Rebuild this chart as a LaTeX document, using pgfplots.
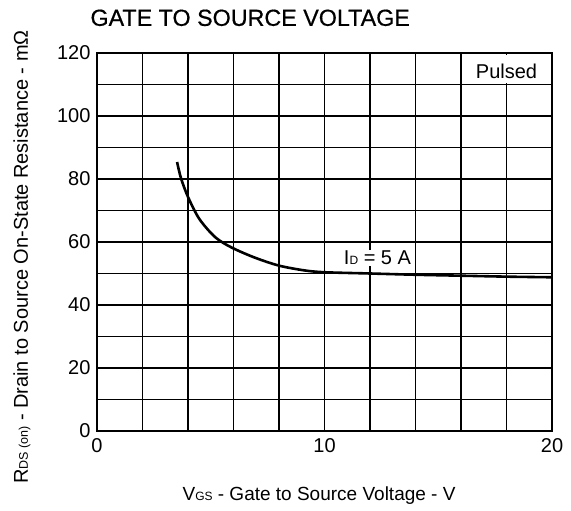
\documentclass[border=0pt]{standalone}
\usepackage{pgfplots}
\pgfplotsset{compat=1.18}
\usepackage{fontspec}
\setmainfont{Liberation Sans}
\begin{document}
\begin{tikzpicture}[x=1bp,y=1bp]
\path[use as bounding box] (0,0) rectangle (571,511);
\begin{axis}[
  at={(97bp,80bp)}, anchor=south west,
  scale only axis, width=455bp, height=378bp,
  xmin=0, xmax=20, ymin=0, ymax=120,
  xtick={0,10,20}, minor xtick={2,4,...,18},
  ytick={0,20,...,120}, minor ytick={10,30,...,110},
  grid=both,
  major grid style={black, line width=1.1bp},
  minor grid style={black, line width=1.1bp},
  axis line style={black, line width=2.6bp},
  tick style={draw=none},
  /pgf/number format/assume math mode=true,
  ticklabel style={font=\fontsize{20bp}{24bp}\selectfont},
  xticklabel style={yshift=-4bp},
  yticklabel style={xshift=-3bp},
  xlabel={V{\fontsize{12bp}{12bp}\selectfont GS} - Gate to Source Voltage - V},
  ylabel={R{\fontsize{12.5bp}{12bp}\selectfont DS (on)} - Drain to Source On-State Resistance - mΩ},
  xlabel style={font=\fontsize{19bp}{22bp}\selectfont, at={(axis description cs:0.488,-0.172)}, anchor=center},
  ylabel style={font=\fontsize{20bp}{22bp}\selectfont, at={(axis description cs:-0.165,0.46)}, anchor=center, rotate=0},
  clip=false,
]
\addplot[black, line width=2.6bp, smooth] coordinates {
(3.52,85.4) (3.69,80.3) (4.0,74.3) (4.5,67.3) (5.2,61.5) (5.93,58.2)
(6.95,55.0) (8,52.5) (9.1,51.0) (10,50.4) (12,50.0) (14,49.6)
(16,49.3) (18,49.0) (20,48.8)
};
\draw[white, line width=2.5bp] (axis cs:18,110.6) -- (axis cs:18,119.4);
\node[font=\fontsize{20bp}{24bp}\selectfont] at (axis cs:18,114.3) {Pulsed};
\node[fill=white, inner sep=1bp, font=\fontsize{20bp}{24bp}\selectfont] at (axis cs:12.33,54.9) {I{\fontsize{12bp}{12bp}\selectfont D} = 5 A};
\node[anchor=west, font=\fontsize{23.3bp}{26bp}\selectfont\addfontfeature{FakeBold=0.6}] at (axis description cs:-0.022,1.093) {GATE TO SOURCE VOLTAGE};
\end{axis}
\end{tikzpicture}
\end{document}
